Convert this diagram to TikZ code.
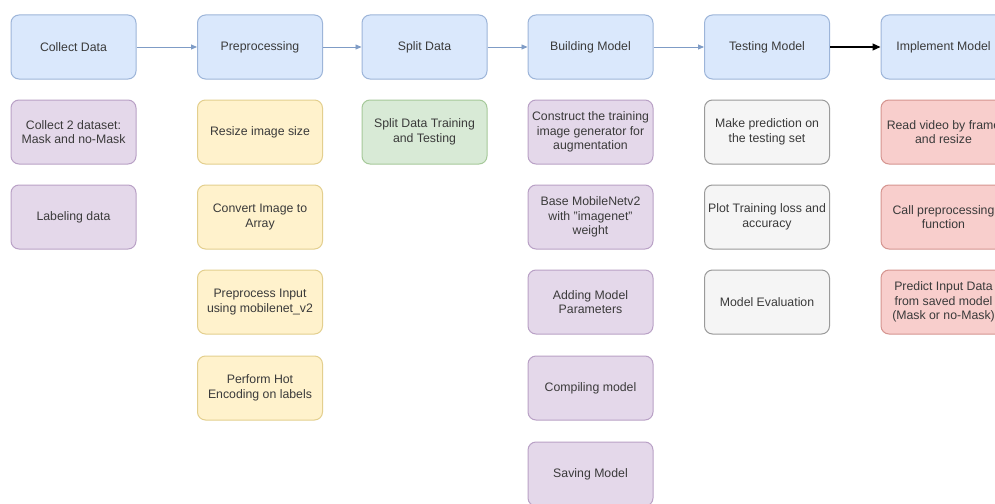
\documentclass[tikz,border=0pt]{standalone}
\usepackage{fontspec}
\setmainfont{Liberation Sans}
\usetikzlibrary{arrows.meta}
\definecolor{bluefill}{HTML}{DAE8FC}
\definecolor{bluedraw}{HTML}{9DB5D9}
\definecolor{purpfill}{HTML}{E4D8EA}
\definecolor{purpdraw}{HTML}{B9A1C6}
\definecolor{yelfill}{HTML}{FFF2CC}
\definecolor{yeldraw}{HTML}{E3CF8E}
\definecolor{grnfill}{HTML}{D8EAD6}
\definecolor{grndraw}{HTML}{A6C99A}
\definecolor{grayfill}{HTML}{F5F5F5}
\definecolor{graydraw}{HTML}{9A9A9A}
\definecolor{redfill}{HTML}{F8CECC}
\definecolor{reddraw}{HTML}{D59590}
\definecolor{txt}{HTML}{3A3A3A}
\definecolor{arrowc}{HTML}{7F9CC6}
\tikzset{
  box/.style={rounded corners=8pt, minimum width=125pt, minimum height=64pt,
    inner sep=0pt, align=center, text=txt, line width=1pt,
    font=\fontsize{12.3}{14.5}\selectfont},
  blue/.style={box, fill=bluefill, draw=bluedraw},
  purp/.style={box, fill=purpfill, draw=purpdraw},
  yel/.style={box, fill=yelfill, draw=yeldraw},
  grn/.style={box, fill=grnfill, draw=grndraw},
  gry/.style={box, fill=grayfill, draw=graydraw},
  rd/.style={box, fill=redfill, draw=reddraw},
  flow/.style={draw=arrowc, line width=0.9pt, -{Triangle[length=6pt,width=5pt]}},
  flowdark/.style={draw=black, line width=1.1pt, -{Triangle[length=8pt,width=7pt]}}
}
\begin{document}
\begin{tikzpicture}[x=1pt,y=-1pt]
\clip (0,0) rectangle (995,503);
\fill[white] (0,0) rectangle (995,503);
% header row
\node[blue] (c1) at (73.5,47) {Collect Data};
\node[blue] (c2) at (260,47) {Preprocessing};
\node[blue] (c3) at (424.5,47) {Split Data};
\node[blue] (c4) at (590.5,47) {Building Model};
\node[blue] (c5) at (767,47) {Testing Model};
\node[blue] (c6) at (943.5,47) {Implement Model};
% column 1
\node[purp] (a1) at (73.5,132) {Collect 2 dataset:\\Mask and no-Mask};
\node[purp] (a2) at (73.5,217) {Labeling data};
% column 2
\node[yel] (b1) at (260,132) {Resize image size};
\node[yel] (b2) at (260,217) {Convert Image to\\Array};
\node[yel] (b3) at (260,302) {Preprocess Input\\using mobilenet\_v2};
\node[yel] (b4) at (260,388) {Perform Hot\\Encoding on labels};
% column 3
\node[grn] (s1) at (424.5,132) {Split Data Training\\and Testing};
% column 4
\node[purp] (m1) at (590.5,132) {Construct the training\\image generator for\\augmentation};
\node[purp] (m2) at (590.5,217) {Base MobileNetv2\\with "imagenet"\\weight};
\node[purp] (m3) at (590.5,302) {Adding Model\\Parameters};
\node[purp] (m4) at (590.5,388) {Compiling model};
\node[purp] (m5) at (590.5,474) {Saving Model};
% column 5
\node[gry] (t1) at (767,132) {Make prediction on\\the testing set};
\node[gry] (t2) at (767,217) {Plot Training loss and\\accuracy};
\node[gry] (t3) at (767,302) {Model Evaluation};
% column 6
\node[rd] (i1) at (943.5,132) {Read video by frame\\and resize};
\node[rd] (i2) at (943.5,217) {Call preprocessing\\function};
\node[rd] (i3) at (943.5,302) {Predict Input Data\\from saved model\\(Mask or no-Mask)};
% connectors
\draw[flow] (c1) -- (c2);
\draw[flow] (c2) -- (c3);
\draw[flow] (c3) -- (c4);
\draw[flow] (c4) -- (c5);
\draw[flowdark] (c5) -- (c6);
\end{tikzpicture}
\end{document}
